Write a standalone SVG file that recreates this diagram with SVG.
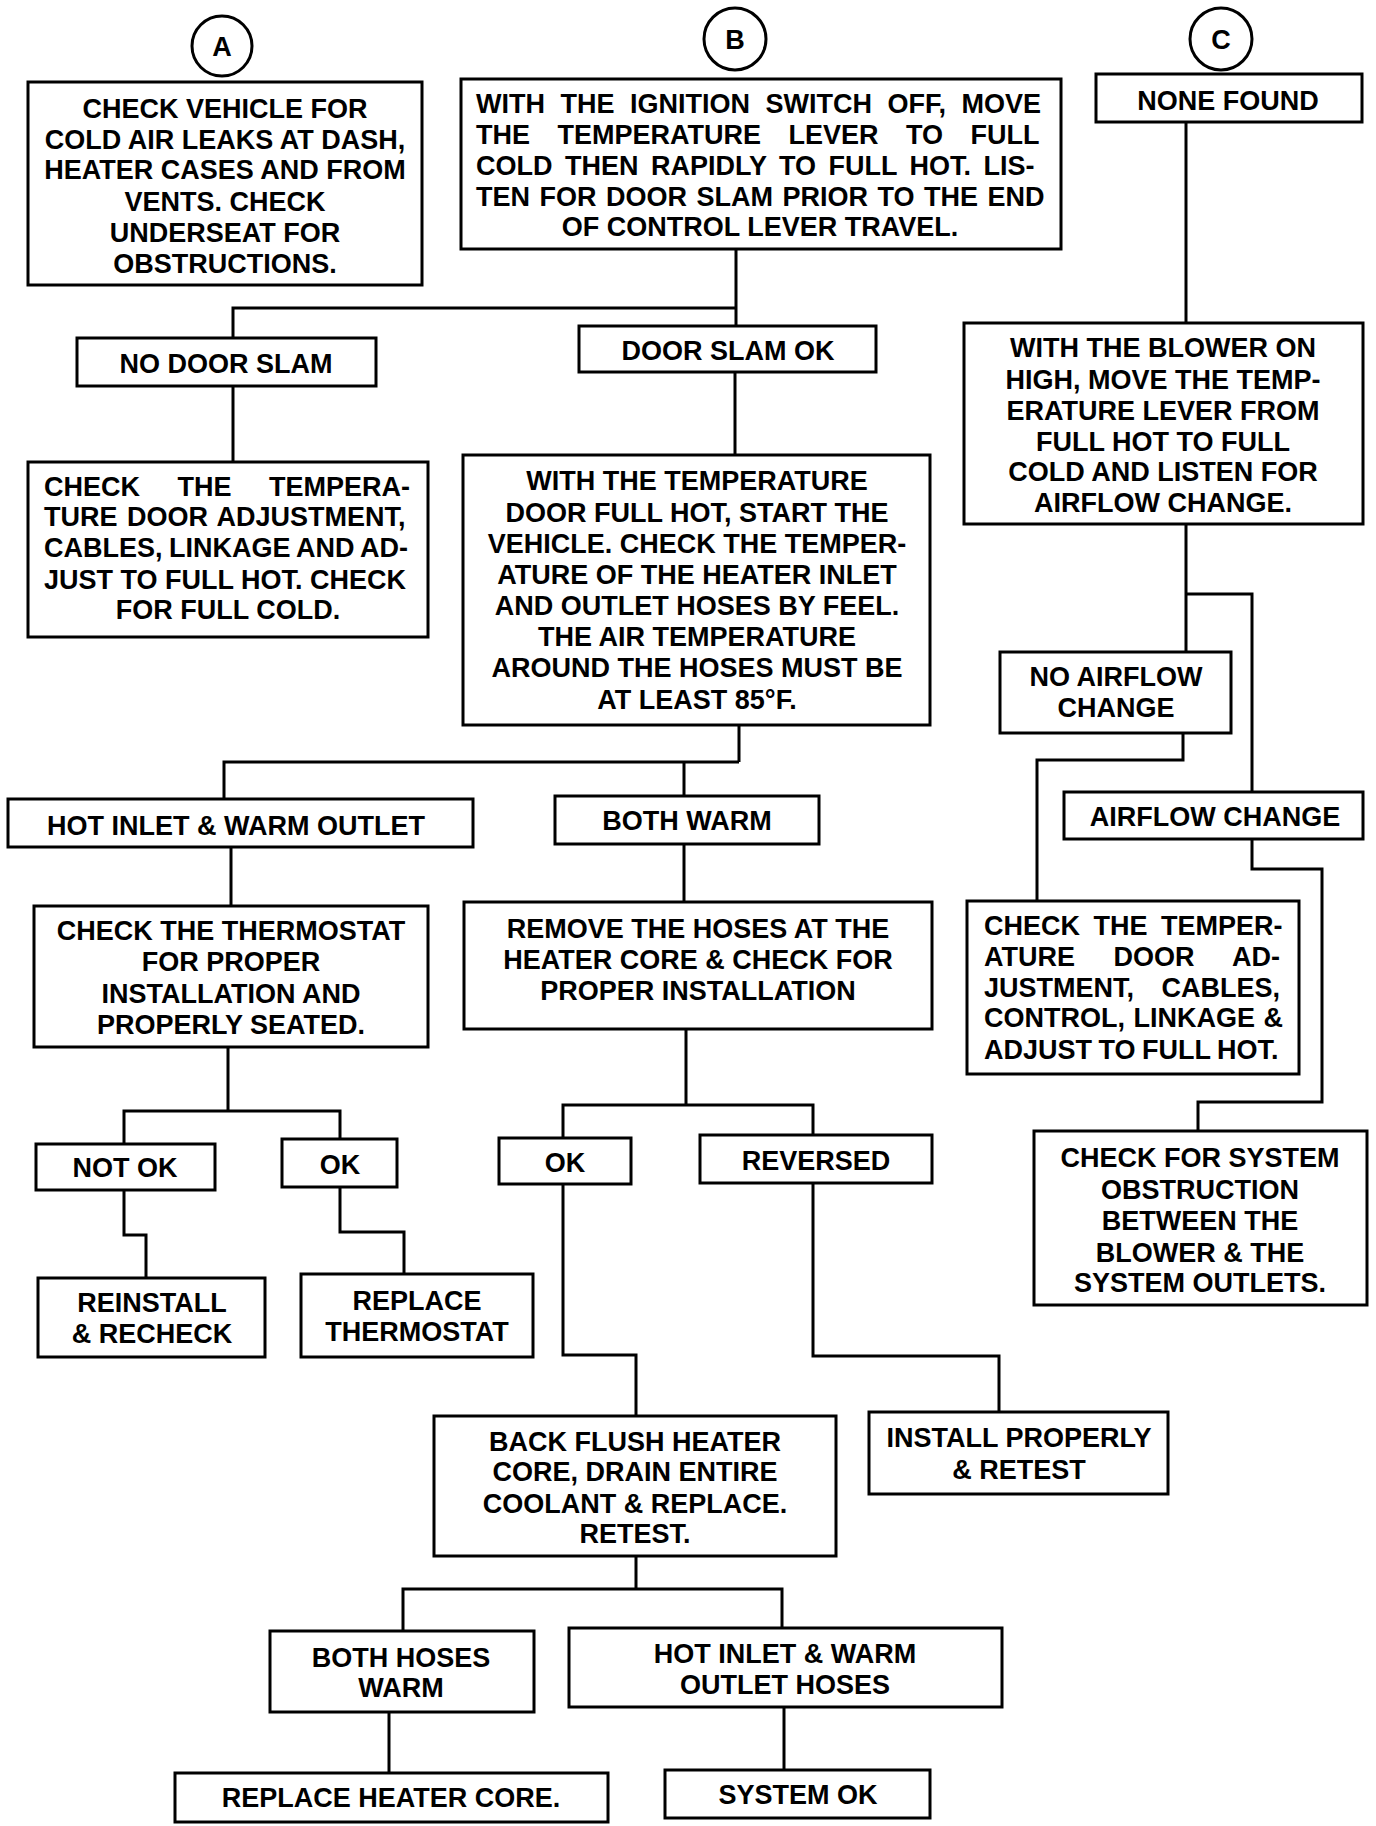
<svg xmlns="http://www.w3.org/2000/svg" width="1376" height="1826" viewBox="0 0 1376 1826">
<style>
.b{fill:#fff;stroke:#000;stroke-width:3}
.t{font-family:"Liberation Sans",Arial,sans-serif;font-weight:bold;font-size:27px;text-anchor:middle;fill:#000}
.s{text-anchor:start}
.c{fill:none;stroke:#000;stroke-width:3}
</style>
<rect width="1376" height="1826" fill="#fff"/>
<g id="connectors">
<path class="c" d="M736,249V326M233,338V308H736"/>
<path class="c" d="M233,386V462"/>
<path class="c" d="M735,372V455"/>
<path class="c" d="M739,725V762M224,799V762H739M684,762V796"/>
<path class="c" d="M231,847V906"/>
<path class="c" d="M684,844V902"/>
<path class="c" d="M228,1047V1111M124,1144V1111H340V1139"/>
<path class="c" d="M124,1190V1235H146V1278"/>
<path class="c" d="M340,1187V1232H404V1274"/>
<path class="c" d="M686,1029V1105M563,1138V1105H813V1135"/>
<path class="c" d="M563,1184V1355H636V1416"/>
<path class="c" d="M813,1183V1356H999V1412"/>
<path class="c" d="M636,1556V1589M403,1631V1589H782V1628"/>
<path class="c" d="M389,1712V1773"/>
<path class="c" d="M784,1707V1770"/>
<path class="c" d="M1186,122V323"/>
<path class="c" d="M1186,524V652M1186,594H1252V792"/>
<path class="c" d="M1183,733V760H1037V901"/>
<path class="c" d="M1252,839V869H1322V1102H1198V1131"/>
</g>
<g id="circleA"><circle class="b" cx="222" cy="46" r="30"/><text class="t" x="222" y="56">A</text></g>
<g id="circleB"><circle class="b" cx="735" cy="39" r="31"/><text class="t" x="735" y="49">B</text></g>
<g id="circleC"><circle class="b" cx="1221" cy="39" r="31"/><text class="t" x="1221" y="49">C</text></g>
<g id="a1"><rect class="b" x="28" y="82" width="394" height="203"/>
<text class="t" x="225" y="118">CHECK VEHICLE FOR</text>
<text class="t" x="225" y="149">COLD AIR LEAKS AT DASH,</text>
<text class="t" x="225" y="179">HEATER CASES AND FROM</text>
<text class="t" x="225" y="211">VENTS. CHECK</text>
<text class="t" x="225" y="242">UNDERSEAT FOR</text>
<text class="t" x="225" y="273">OBSTRUCTIONS.</text></g>
<g id="b1"><rect class="b" x="461" y="79" width="600" height="170"/>
<text class="t s" x="476" y="113" word-spacing="8">WITH THE IGNITION SWITCH OFF, MOVE</text>
<text class="t s" x="476" y="144" word-spacing="20">THE TEMPERATURE LEVER TO FULL</text>
<text class="t s" x="476" y="175" word-spacing="5">COLD THEN RAPIDLY TO FULL HOT. LIS-</text>
<text class="t s" x="476" y="206" word-spacing="2">TEN FOR DOOR SLAM PRIOR TO THE END</text>
<text class="t" x="760" y="236">OF CONTROL LEVER TRAVEL.</text></g>
<g id="c1"><rect class="b" x="1096" y="74" width="266" height="48"/>
<text class="t" x="1228" y="110">NONE FOUND</text></g>
<g id="noDoorSlam"><rect class="b" x="77" y="338" width="299" height="48"/>
<text class="t" x="226" y="373">NO DOOR SLAM</text></g>
<g id="doorSlamOk"><rect class="b" x="579" y="326" width="297" height="46"/>
<text class="t" x="728" y="360">DOOR SLAM OK</text></g>
<g id="a2"><rect class="b" x="28" y="462" width="400" height="175"/>
<text class="t s" x="44" y="496" word-spacing="30">CHECK THE TEMPERA-</text>
<text class="t s" x="44" y="526" word-spacing="2">TURE DOOR ADJUSTMENT,</text>
<text class="t s" x="44" y="557" word-spacing="-1">CABLES, LINKAGE AND AD-</text>
<text class="t s" x="44" y="589">JUST TO FULL HOT. CHECK</text>
<text class="t" x="228" y="619">FOR FULL COLD.</text></g>
<g id="b2"><rect class="b" x="463" y="455" width="467" height="270"/>
<text class="t" x="697" y="490">WITH THE TEMPERATURE</text>
<text class="t" x="697" y="522">DOOR FULL HOT, START THE</text>
<text class="t" x="697" y="553">VEHICLE. CHECK THE TEMPER-</text>
<text class="t" x="697" y="584">ATURE OF THE HEATER INLET</text>
<text class="t" x="697" y="615">AND OUTLET HOSES BY FEEL.</text>
<text class="t" x="697" y="646">THE AIR TEMPERATURE</text>
<text class="t" x="697" y="677">AROUND THE HOSES MUST BE</text>
<text class="t" x="697" y="709">AT LEAST 85°F.</text></g>
<g id="hotInlet"><rect class="b" x="8" y="799" width="465" height="48"/>
<text class="t" x="236" y="835">HOT INLET &amp; WARM OUTLET</text></g>
<g id="bothWarm"><rect class="b" x="555" y="796" width="264" height="48"/>
<text class="t" x="687" y="830">BOTH WARM</text></g>
<g id="a3"><rect class="b" x="34" y="906" width="394" height="141"/>
<text class="t" x="231" y="940">CHECK THE THERMOSTAT</text>
<text class="t" x="231" y="971">FOR PROPER</text>
<text class="t" x="231" y="1003">INSTALLATION AND</text>
<text class="t" x="231" y="1034">PROPERLY SEATED.</text></g>
<g id="b3"><rect class="b" x="464" y="902" width="468" height="127"/>
<text class="t" x="698" y="938">REMOVE THE HOSES AT THE</text>
<text class="t" x="698" y="969">HEATER CORE &amp; CHECK FOR</text>
<text class="t" x="698" y="1000">PROPER INSTALLATION</text></g>
<g id="notOk"><rect class="b" x="36" y="1144" width="179" height="46"/>
<text class="t" x="125" y="1177">NOT OK</text></g>
<g id="okLeft"><rect class="b" x="282" y="1139" width="115" height="48"/>
<text class="t" x="340" y="1174">OK</text></g>
<g id="okMid"><rect class="b" x="499" y="1138" width="132" height="46"/>
<text class="t" x="565" y="1172">OK</text></g>
<g id="reversed"><rect class="b" x="700" y="1135" width="232" height="48"/>
<text class="t" x="816" y="1170">REVERSED</text></g>
<g id="reinstall"><rect class="b" x="38" y="1278" width="227" height="79"/>
<text class="t" x="152" y="1312">REINSTALL</text>
<text class="t" x="152" y="1343">&amp; RECHECK</text></g>
<g id="replaceThermostat"><rect class="b" x="301" y="1274" width="232" height="83"/>
<text class="t" x="417" y="1310">REPLACE</text>
<text class="t" x="417" y="1341">THERMOSTAT</text></g>
<g id="backFlush"><rect class="b" x="434" y="1416" width="402" height="140"/>
<text class="t" x="635" y="1451">BACK FLUSH HEATER</text>
<text class="t" x="635" y="1481">CORE, DRAIN ENTIRE</text>
<text class="t" x="635" y="1513">COOLANT &amp; REPLACE.</text>
<text class="t" x="635" y="1543">RETEST.</text></g>
<g id="installProperly"><rect class="b" x="869" y="1412" width="299" height="82"/>
<text class="t" x="1019" y="1447">INSTALL PROPERLY</text>
<text class="t" x="1019" y="1479">&amp; RETEST</text></g>
<g id="bothHoses"><rect class="b" x="270" y="1631" width="264" height="81"/>
<text class="t" x="401" y="1667">BOTH HOSES</text>
<text class="t" x="401" y="1697">WARM</text></g>
<g id="hotInletHoses"><rect class="b" x="569" y="1628" width="433" height="79"/>
<text class="t" x="785" y="1663">HOT INLET &amp; WARM</text>
<text class="t" x="785" y="1694">OUTLET HOSES</text></g>
<g id="replaceCore"><rect class="b" x="175" y="1773" width="433" height="49"/>
<text class="t" x="391" y="1807">REPLACE HEATER CORE.</text></g>
<g id="systemOk"><rect class="b" x="665" y="1770" width="265" height="48"/>
<text class="t" x="798" y="1804">SYSTEM OK</text></g>
<g id="c2"><rect class="b" x="964" y="323" width="399" height="201"/>
<text class="t" x="1163" y="357">WITH THE BLOWER ON</text>
<text class="t" x="1163" y="389">HIGH, MOVE THE TEMP-</text>
<text class="t" x="1163" y="420">ERATURE LEVER FROM</text>
<text class="t" x="1163" y="451">FULL HOT TO FULL</text>
<text class="t" x="1163" y="481">COLD AND LISTEN FOR</text>
<text class="t" x="1163" y="512">AIRFLOW CHANGE.</text></g>
<g id="noAirflow"><rect class="b" x="1000" y="652" width="231" height="81"/>
<text class="t" x="1116" y="686">NO AIRFLOW</text>
<text class="t" x="1116" y="717">CHANGE</text></g>
<g id="airflowChange"><rect class="b" x="1064" y="792" width="299" height="47"/>
<text class="t" x="1215" y="826">AIRFLOW CHANGE</text></g>
<g id="c3"><rect class="b" x="967" y="901" width="332" height="173"/>
<text class="t s" x="984" y="935" word-spacing="6">CHECK THE TEMPER-</text>
<text class="t s" x="984" y="966" word-spacing="31">ATURE DOOR AD-</text>
<text class="t s" x="984" y="997" word-spacing="20">JUSTMENT, CABLES,</text>
<text class="t s" x="984" y="1027" word-spacing="1">CONTROL, LINKAGE &amp;</text>
<text class="t s" x="984" y="1059" word-spacing="-1">ADJUST TO FULL HOT.</text></g>
<g id="c4"><rect class="b" x="1034" y="1131" width="333" height="174"/>
<text class="t" x="1200" y="1167">CHECK FOR SYSTEM</text>
<text class="t" x="1200" y="1199">OBSTRUCTION</text>
<text class="t" x="1200" y="1230">BETWEEN THE</text>
<text class="t" x="1200" y="1262">BLOWER &amp; THE</text>
<text class="t" x="1200" y="1292">SYSTEM OUTLETS.</text></g>
</svg>
